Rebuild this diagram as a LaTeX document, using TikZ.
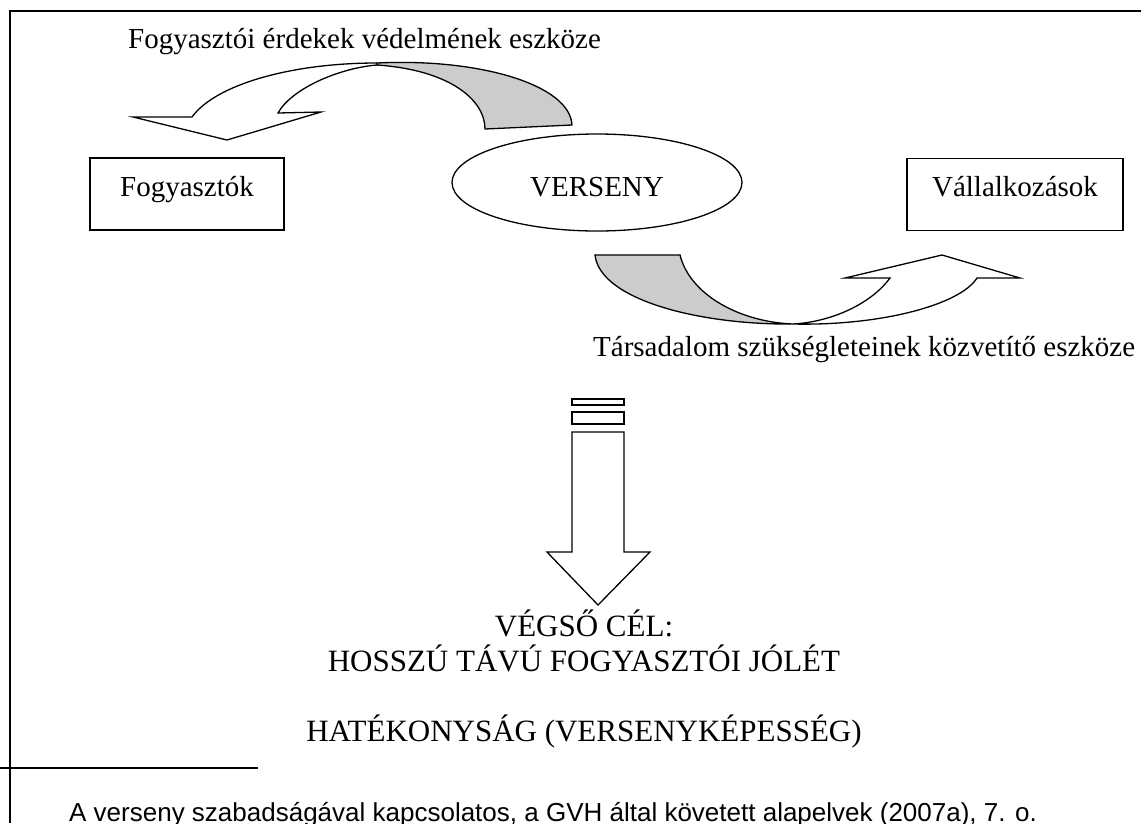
\documentclass[tikz,border=0pt]{standalone}
\usepackage{fontspec}
\usetikzlibrary{shapes.geometric}
\setmainfont{Liberation Serif}
\newfontfamily\footfont{Liberation Sans}
\begin{document}
\begin{tikzpicture}[x=1pt,y=-1pt,
  lbl/.style={font=\fontsize{29}{33}\selectfont, inner sep=0pt},
  goal/.style={font=\fontsize{31}{35}\selectfont, inner sep=0pt},
  boxnode/.style={draw, line width=1.6pt, minimum height=72pt, font=\fontsize{29}{33}\selectfont, inner sep=0pt, text height=20pt, text depth=16pt},
  shapeline/.style={draw, line width=1.3pt, line join=miter},
  backside/.style={shapeline, fill=black!20},
  frontside/.style={shapeline, fill=white}]
\useasboundingbox (0,0) rectangle (1141,823);
% frame
\coordinate (ftl) at (10,11);
\coordinate (ftr) at (1141,11);
\coordinate (fbl) at (10,823);
\draw[line width=2pt] (ftr) -- (ftl) -- (fbl);
% top label
\node[lbl, anchor=base west] (toplabel) at (128,48) {Fogyasztói érdekek védelmének eszköze};
% nodes
\node[boxnode, minimum width=194pt] (fogy) at (187,194) {Fogyasztók};
\node[boxnode, minimum width=216pt] (vall) at (1015,194.5) {Vállalkozások};
\node[draw, line width=1.3pt, ellipse, minimum width=290pt, minimum height=97pt, inner sep=0pt, text height=27pt, text depth=0pt, font=\fontsize{29}{33}\selectfont] (verseny) at (597,182.5) {VERSENY};
% top curved arrow: back side (gray)
\path[backside] (377,63) .. controls (480,58) and (570,85) .. (572,125)
  -- (485,129) .. controls (485,100) and (450,70) .. (377,65) -- cycle;
% top curved arrow: front side (white)
\path[frontside] (377,63) .. controls (290,63) and (215,85) .. (192,117)
  -- (133,117) -- (227,140) -- (321,112) -- (278,113)
  .. controls (292,88) and (340,68) .. (377,65) -- cycle;
% bottom curved arrow: back side (gray)
\path[backside] (595,255) -- (680,255)
  .. controls (690,295) and (740,322) .. (793,324)
  .. controls (700,325) and (600,300) .. (595,255) -- cycle;
% bottom curved arrow: front side (white)
\path[frontside] (793,324) .. controls (880,326) and (960,305) .. (977,278)
  -- (1020,278) -- (942,255) -- (845,278) -- (890,278)
  .. controls (870,305) and (830,322) .. (793,324) -- cycle;
% bottom label
\node[lbl, anchor=base west] (botlabel) at (593,356) {Társadalom szükségleteinek közvetítő eszköze};
% down arrow
\path[frontside] (572,399) rectangle (624,405);
\path[frontside] (572,412) rectangle (624,424);
\path[frontside] (572,432) -- (624,432) -- (624,552) -- (650,552) -- (598,605)
  -- (547,552) -- (572,552) -- cycle;
% goal texts
\node[goal, anchor=base] (goal1) at (584,636) {VÉGSŐ CÉL:};
\node[goal, anchor=base] (goal2) at (584,671) {HOSSZÚ TÁVÚ FOGYASZTÓI JÓLÉT};
\node[goal, anchor=base] (goal3) at (584,741) {HATÉKONYSÁG (VERSENYKÉPESSÉG)};
% footnote
\coordinate (rulea) at (0,768);
\coordinate (ruleb) at (258,768);
\draw[line width=2pt] (rulea) -- (ruleb);
\node[inner sep=0pt, anchor=base west, font=\footfont\fontsize{26}{30}\selectfont] (foot) at (69,821) {A verseny szabadságával kapcsolatos, a GVH által követett alapelvek (2007a), 7. o.};
\end{tikzpicture}
\end{document}
